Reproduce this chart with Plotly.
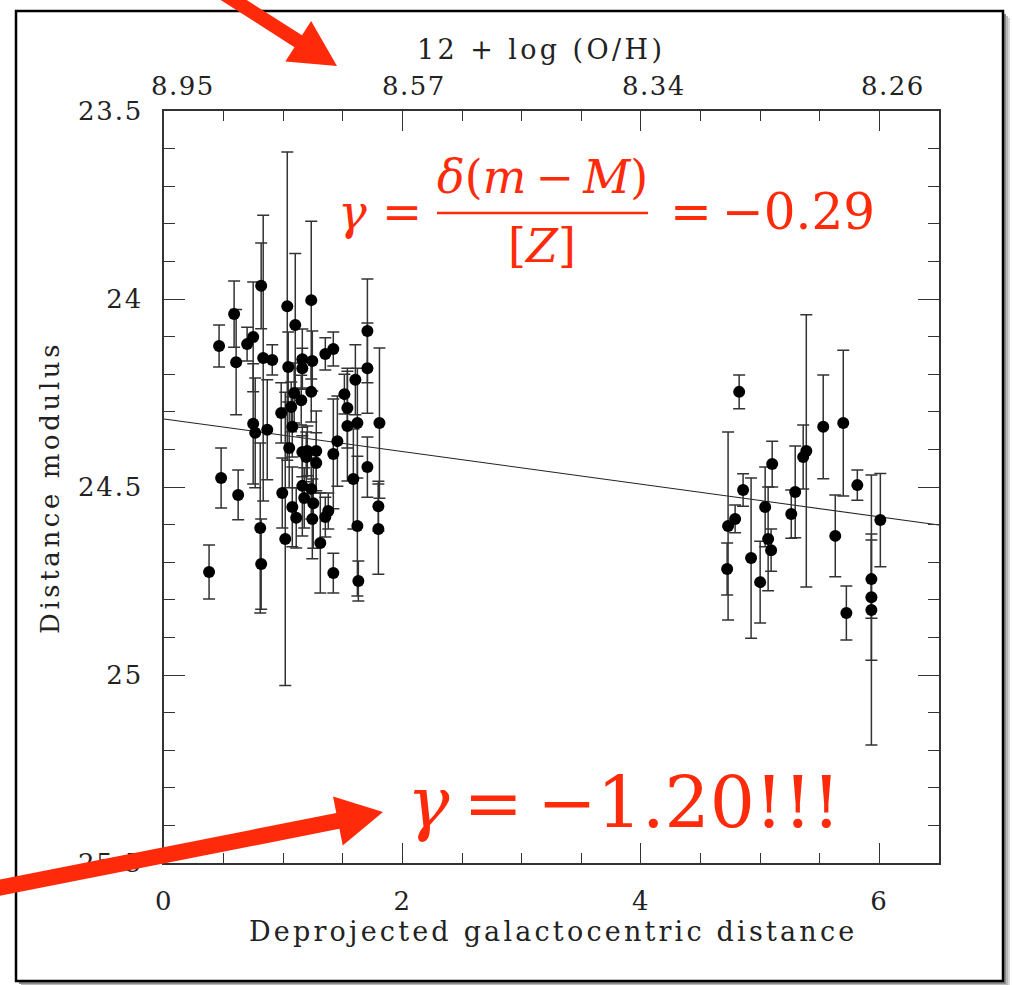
import plotly.graph_objects as go
import math

# ---------------- data ----------------
inner_r = [0.378, 0.462, 0.479, 0.588, 0.605, 0.622, 0.697, 0.748, 0.748, 0.765,
           0.807, 0.815, 0.832, 0.815, 0.866, 0.908, 0.983, 0.992, 1.034, 1.017,
           1.042, 1.050, 1.067, 1.076, 1.076, 1.092, 1.101, 1.109, 1.151, 1.160,
           1.160, 1.160, 1.160, 1.176, 1.193, 1.202, 1.235, 1.235, 1.235, 1.244,
           1.244, 1.252, 1.277, 1.277, 1.311, 1.353, 1.353, 1.378, 1.420, 1.420,
           1.420, 1.454, 1.513, 1.538, 1.538, 1.588, 1.605, 1.622, 1.622, 1.630,
           1.706, 1.706, 1.706, 1.798, 1.798, 1.807]
inner_mod = [24.726, 24.125, 24.476, 24.040, 24.168, 24.521, 24.120, 24.101, 24.332, 24.356,
             24.609, 23.965, 24.157, 24.705, 24.348, 24.162, 24.303, 24.516, 24.019, 24.638,
             24.181, 24.396, 24.287, 24.340, 24.553, 24.250, 24.069, 24.582, 24.269, 24.160,
             24.184, 24.407, 24.497, 24.529, 24.420, 24.404, 24.003, 24.247, 24.505, 24.165,
             24.585, 24.543, 24.404, 24.436, 24.649, 24.146, 24.580, 24.564, 24.133, 24.412,
             24.729, 24.378, 24.253, 24.290, 24.338, 24.479, 24.215, 24.330, 24.604, 24.750,
             24.085, 24.184, 24.447, 24.551, 24.612, 24.330]
inner_err = [0.072, 0.056, 0.080, 0.088, 0.140, 0.066, 0.045, 0.146, 0.160, 0.146,
             0.226, 0.114, 0.380, 0.120, 0.133, 0.040, 0.080, 0.093, 0.410, 0.390,
             0.093, 0.106, 0.066, 0.080, 0.106, 0.080, 0.190, 0.080, 0.066, 0.080,
             0.053, 0.066, 0.133, 0.080, 0.066, 0.066, 0.210, 0.080, 0.080, 0.080,
             0.106, 0.120, 0.106, 0.080, 0.133, 0.043, 0.053, 0.048, 0.045, 0.146,
             0.053, 0.120, 0.053, 0.106, 0.146, 0.133, 0.093, 0.146, 0.186, 0.053,
             0.138, 0.120, 0.080, 0.066, 0.120, 0.200]

outer_r = [4.824, 4.731, 4.723, 4.790, 4.857, 4.924, 5.000, 5.042, 5.067, 5.092,
           5.101, 5.261, 5.294, 5.361, 5.387, 5.529, 5.630, 5.697, 5.723, 5.815,
           5.933, 5.933, 5.933, 6.008]
outer_mod = [24.247, 24.604, 24.718, 24.585, 24.508, 24.689, 24.753, 24.553, 24.638, 24.668,
             24.439, 24.572, 24.513, 24.420, 24.404, 24.340, 24.630, 24.330, 24.835, 24.495,
             24.745, 24.793, 24.827, 24.588]
outer_err = [0.045, 0.250, 0.069, 0.037, 0.043, 0.213, 0.109, 0.106, 0.138, 0.056,
             0.061, 0.064, 0.122, 0.085, 0.362, 0.138, 0.109, 0.194, 0.072, 0.040,
             0.104, 0.168, 0.359, 0.124]

fit_intercept = 24.319
fit_slope = 0.0434
fit_x = [0.0, 6.5]
fit_y = [fit_intercept + fit_slope * v for v in fit_x]

x_range = [0, 6.5]
y_range = [25.5, 23.5]
x_tick_vals = [0, 2, 4, 6]
x_tick_text = ["0", "2", "4", "6"]
y_tick_vals = [23.5, 24, 24.5, 25, 25.5]
y_tick_text = ["23.5", "24", "24.5", "25", "25.5"]
oh_labels = ["8.95", "8.57", "8.34", "8.26"]
oh_label_pos = [0.16, 2.10, 4.11, 6.11]

# ---------------- geometry helpers ----------------
W, H = 1012, 985
ML, MR, MT, MB = 164, 73, 111, 122
PW = W - ML - MR
PH = H - MT - MB


def px(xp, yp):
    return (xp - ML) / PW, (H - MB - yp) / PH


def arrow_path(tail, tip, shaft_w, head_len, head_w):
    tx, ty = tail
    hx, hy = tip
    d = math.hypot(hx - tx, hy - ty)
    ux, uy = (hx - tx) / d, (hy - ty) / d
    nx, ny = -uy, ux
    bx, by = hx - ux * head_len, hy - uy * head_len
    pts = [
        (tx + nx * shaft_w / 2, ty + ny * shaft_w / 2),
        (bx + nx * shaft_w / 2, by + ny * shaft_w / 2),
        (bx + nx * head_w / 2, by + ny * head_w / 2),
        (hx, hy),
        (bx - nx * head_w / 2, by - ny * head_w / 2),
        (bx - nx * shaft_w / 2, by - ny * shaft_w / 2),
        (tx - nx * shaft_w / 2, ty - ny * shaft_w / 2),
    ]
    pp = [px(a, b) for a, b in pts]
    return "M " + " L ".join(f"{a:.5f},{b:.5f}" for a, b in pp) + " Z"


BLACK_FONT = "DejaVu Serif"
RED_FONT = "DejaVu Serif"
RED = "#ff2a0a"
INK = "#222222"
THIN = "\u2009"


def spaced(t, s):
    return f'<span style="letter-spacing:{s}px">{t}</span>'


fig = go.Figure()

err_style = dict(type="data", color="#333333", thickness=1.5, width=6)

fig.add_trace(go.Scatter(x=fit_x, y=fit_y, mode="lines",
                         line=dict(color="#222222", width=1.1), showlegend=False,
                         hoverinfo="skip"))
fig.add_trace(go.Scatter(x=inner_r, y=inner_mod, mode="markers",
                         marker=dict(color="black", size=12),
                         error_y=dict(array=inner_err, **err_style),
                         showlegend=False))
fig.add_trace(go.Scatter(x=outer_r, y=outer_mod, mode="markers",
                         marker=dict(color="black", size=12),
                         error_y=dict(array=outer_err, **err_style),
                         showlegend=False))

axis_common = dict(showgrid=False, zeroline=False, showline=True, linecolor="#333333",
                   linewidth=1.5, mirror="allticks", ticks="inside", tickcolor="#333333",
                   tickwidth=1.3, tickfont=dict(family=BLACK_FONT, size=26, color=INK))

fig.update_xaxes(range=x_range, tickvals=x_tick_vals,
                 ticktext=[spaced(t, 1.5) for t in x_tick_text], ticklen=20,
                 ticklabelstandoff=14,
                 minor=dict(ticks="inside", ticklen=10, dtick=0.5, tick0=0,
                            tickcolor="#333333", tickwidth=1.3),
                 **axis_common)
fig.update_yaxes(range=y_range, tickvals=y_tick_vals,
                 ticktext=[spaced(t, 1.8) for t in y_tick_text], ticklen=21,
                 ticklabelstandoff=14,
                 minor=dict(ticks="inside", ticklen=11, dtick=0.1, tick0=23.5,
                            tickcolor="#333333", tickwidth=1.3),
                 **axis_common)

shapes = []
# figure frame with soft drop shadow
for off, col in [(7, "#d8d8d8"), (5, "#b8b8b8"), (3, "#8a8a8a")]:
    s0 = px(16 + off, 11 + off); s1 = px(1003 + off, 981 + off)
    shapes.append(dict(type="rect", xref="paper", yref="paper", x0=s0[0], y0=s0[1],
                       x1=s1[0], y1=s1[1], fillcolor=col, line=dict(width=0),
                       layer="below"))
f0 = px(16, 11); f1 = px(1003, 981)
shapes.append(dict(type="rect", xref="paper", yref="paper", x0=f0[0], y0=f0[1],
                   x1=f1[0], y1=f1[1], fillcolor="white",
                   line=dict(color="black", width=2.5), layer="below"))
# fraction bar
b0 = px(437, 213); b1 = px(648, 213)
shapes.append(dict(type="line", xref="paper", yref="paper", x0=b0[0], y0=b0[1],
                   x1=b1[0], y1=b1[1], line=dict(color=RED, width=2.6)))
# arrows
shapes.append(dict(type="path", xref="paper", yref="paper",
                   path=arrow_path((218, -10), (337, 66), 14, 46, 48),
                   fillcolor=RED, line=dict(width=0), layer="above"))
shapes.append(dict(type="path", xref="paper", yref="paper",
                   path=arrow_path((-12, 890), (383, 812), 16, 46, 50),
                   fillcolor=RED, line=dict(width=0), layer="above"))

annotations = []


def ann(text, xp, yp, size, family, color, angle=0, xanchor="center"):
    x, y = px(xp, yp)
    annotations.append(dict(text=text, x=x, y=y, xref="paper", yref="paper",
                            showarrow=False, xanchor=xanchor, yanchor="middle",
                            textangle=angle,
                            font=dict(family=family, size=size, color=color)))


# axis titles
ann(spaced("Deprojected galactocentric distance", 3.2), 553, 931, 27, BLACK_FONT, INK)
ann(spaced("Distance modulus", 3.6), 50, 488, 26, BLACK_FONT, INK, angle=-90)
ann(spaced("12 + log (O/H)", 3.4), 541, 49, 27, BLACK_FONT, INK)

# top metallicity labels
for lab, pos in zip(oh_labels, oh_label_pos):
    annotations.append(dict(text=spaced(lab, 1.5), x=pos, y=px(0, 86)[1], xref="x",
                            yref="paper", showarrow=False, xanchor="center",
                            yanchor="middle",
                            font=dict(family=BLACK_FONT, size=26, color=INK)))

# red equation
ann(f"<i>γ</i> =", 380, 212, 48, RED_FONT, RED)
ann(f"<i>δ</i>(<i>m</i>{THIN}−{THIN}<i>M</i>)", 542, 177, 46, RED_FONT, RED)
ann("[<i>Z</i>]", 542, 246, 46, RED_FONT, RED)
ann(f"={THIN}−0.29", 772, 212, 50, RED_FONT, RED)
ann(f"<i>γ</i>{THIN}={THIN}−1.20!!!", 623, 802, 71, RED_FONT, RED)

fig.update_layout(width=W, height=H,
                  margin=dict(l=ML, r=MR, t=MT, b=MB, pad=0),
                  paper_bgcolor="white", plot_bgcolor="rgba(0,0,0,0)",
                  shapes=shapes, annotations=annotations, showlegend=False)

fig.write_html("out.html")
